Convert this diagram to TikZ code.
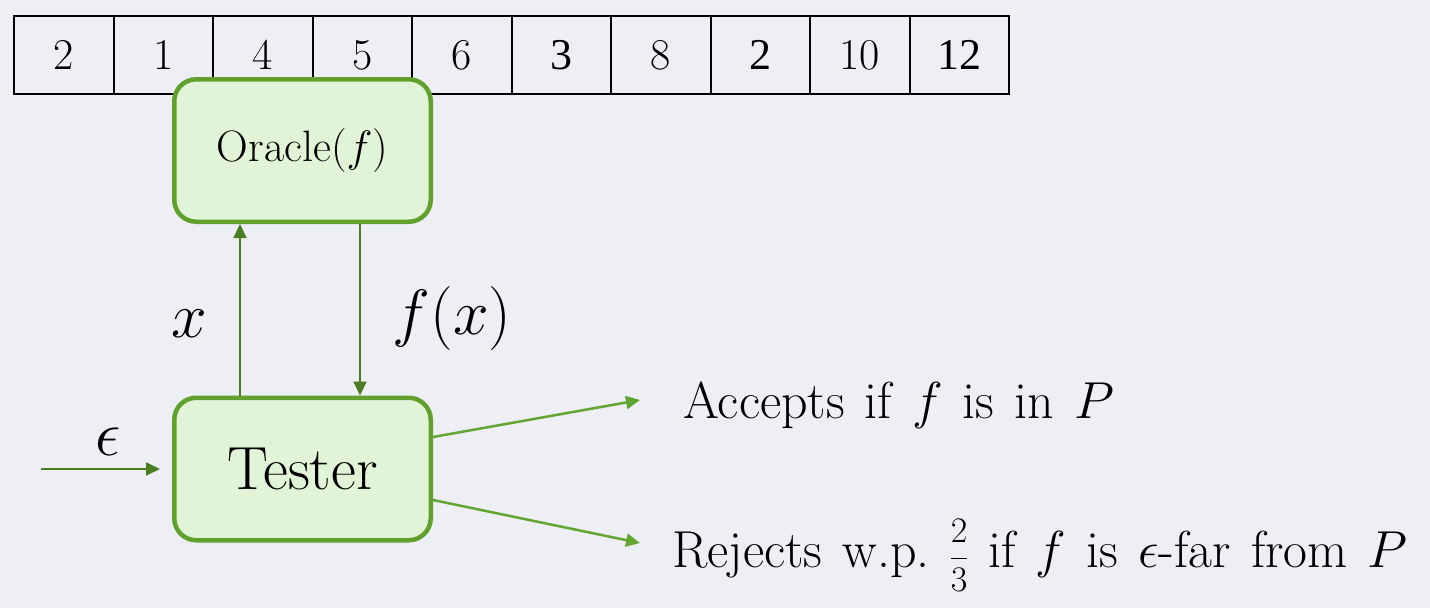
\RequirePackage{fix-cm}
\documentclass[tikz,border=0pt]{standalone}
\usepackage{amsmath}
\usepackage{fontspec}
\newfontfamily\numfont{Liberation Serif}
\newcommand\widesp{\spaceskip=20pt\relax}
\usetikzlibrary{arrows.meta}
\definecolor{bg}{HTML}{EDEFF5}
\definecolor{boxfill}{HTML}{E2F4D8}
\definecolor{boxline}{HTML}{62A02E}
\definecolor{darkarrow}{HTML}{4B7D22}
\definecolor{lightarrow}{HTML}{62A533}

\begin{document}
\begin{tikzpicture}[x=1pt,y=-1pt,
  cell/.style={draw=black, line width=2pt, minimum width=99.5pt, minimum height=78pt,
    inner sep=0pt, outer sep=0pt, font=\fontsize{44}{50}\selectfont},
  proc/.style={draw=boxline, fill=boxfill, line width=4.5pt, rounded corners=22pt,
    minimum width=256.5pt, minimum height=142.5pt, inner sep=0pt},
  darr/.style={draw=darkarrow, line width=2pt, -{Triangle[length=14pt,width=13pt]}},
  larr/.style={draw=lightarrow, line width=2.5pt, -{Triangle[length=14pt,width=13pt]}},
  lbl/.style={inner sep=0pt, font=\fontsize{64}{70}\selectfont},
  txt/.style={inner sep=0pt, anchor=base west, font=\fontsize{52}{58}\selectfont}
]
\fill[bg] (0,0) rectangle (1430,608);
\useasboundingbox (0,0) rectangle (1430,608);

% the array of values f(1), ..., f(10)
\foreach \v [count=\i] in {2,1,4,5,6,{\numfont 3},8,{\numfont 2},10,{\numfont 12}}
  \node[cell] (c\i) at ({14+99.5*(\i-0.5)},55) {\v};

% oracle and tester
\node[proc, font=\fontsize{44}{50}\selectfont] (oracle) at (302.5,150.5) {Oracle($f$)};
\node[proc, font=\fontsize{61}{66}\selectfont] (tester) at (302.5,469) {Tester};

% queries and answers
\draw[darr] (240,0 |- tester.north) -- (240,0 |- oracle.south);
\draw[darr] (360,0 |- oracle.south) -- (360,0 |- tester.north);
\node[lbl] (xq) at (189,324) {$x$};
\node[lbl] (fx) at (452,318) {$f(x)$};

% accuracy parameter
\coordinate (ein) at (41,469);
\draw[darr, shorten >=12pt] (ein) -- (tester.west);
\node[lbl] (eps) at (108,442) {$\epsilon$};

% outcomes
\node[txt] (acc) at (683,418) {\widesp Accepts if $f$ is in $P$};
\node[txt] (rej) at (672,567) {\widesp Rejects w.p.~{\fontsize{36}{40}\selectfont$\dfrac{2}{3}$}~if $f$ is $\epsilon$-far from $P$};
\coordinate (acctip) at (640,400);
\coordinate (rejtip) at (640,543);
\draw[larr] ([yshift=32pt]tester.east) -- (acctip);
\draw[larr] ([yshift=-31pt]tester.east) -- (rejtip);
\end{tikzpicture}
\end{document}
